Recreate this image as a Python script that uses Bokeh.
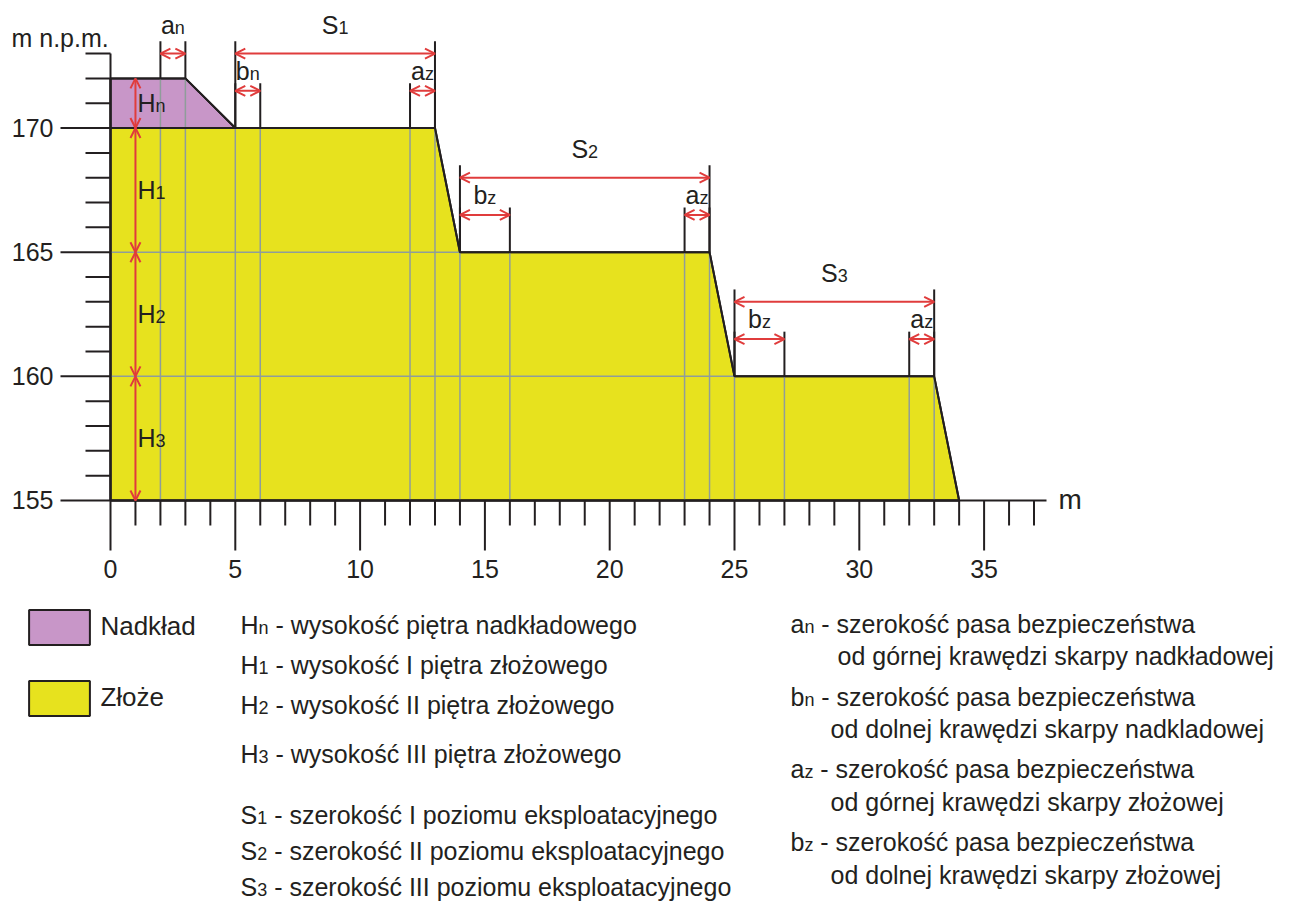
import numpy as np
from bokeh.plotting import figure
from bokeh.models import (ColumnDataSource, Arrow, OpenHead, Range1d,
                          LabelSet, Legend, LegendItem)
from bokeh.core.properties import value
from bokeh.embed import file_html
from bokeh.resources import INLINE

# ---------------- data ----------------
NADKLAD_X = [0, 0, 3, 5]
NADKLAD_Y = [170, 172, 172, 170]
ZLOZE_X = [0, 0, 13, 14, 24, 25, 33, 34]
ZLOZE_Y = [155, 170, 170, 165, 165, 160, 160, 155]
PROFILE_X = [0, 3, 5, 13, 14, 24, 25, 33, 34]
PROFILE_Y = [172, 172, 170, 170, 165, 165, 160, 160, 155]

H_SUB = ["n", "1", "2", "3"]
H_BOTTOM = [170, 165, 160, 155]
H_TOP = [172, 170, 165, 160]

S_SUB = ["1", "2", "3"]
S_START = [5, 14, 25]
S_END = [13, 24, 33]
S_LEVEL = [170, 165, 160]

BELT_BASE = ["a", "b", "a", "b", "a", "b", "a"]
BELT_SUB = ["n", "n", "z", "z", "z", "z", "z"]
BELT_START = [2, 5, 12, 14, 23, 25, 32]
BELT_END = [3, 6, 13, 16, 24, 27, 33]
BELT_LEVEL = [172, 170, 170, 165, 165, 160, 160]

X_MAJOR = [0, 5, 10, 15, 20, 25, 30, 35]
X_MINOR = [i for i in range(0, 38) if i % 5]
Y_MAJOR = [155, 160, 165, 170]
Y_MINOR = [i for i in range(156, 174) if i % 5]
X_UNIT = "m"
Y_UNIT = "m n.p.m."

LEGEND_LABELS = ["Nadkład", "Złoże"]

LEFT_BASE = ["H", "H", "H", "H", "S", "S", "S"]
LEFT_SUB = ["n", "1", "2", "3", "1", "2", "3"]
LEFT_TEXT = ["- wysokość piętra nadkładowego",
             "- wysokość I piętra złożowego",
             "- wysokość II piętra złożowego",
             "- wysokość III piętra złożowego",
             "- szerokość I poziomu eksploatacyjnego",
             "- szerokość II poziomu eksploatacyjnego",
             "- szerokość III poziomu eksploatacyjnego"]

RIGHT_BASE = ["a", "b", "a", "b"]
RIGHT_SUB = ["n", "n", "z", "z"]
RIGHT_LINE1 = ["- szerokość pasa bezpieczeństwa"] * 4
RIGHT_LINE2 = ["od górnej krawędzi skarpy nadkładowej",
               "od dolnej krawędzi skarpy nadkladowej",
               "od górnej krawędzi skarpy złożowej",
               "od dolnej krawędzi skarpy złożowej"]

# ---------------- style / layout ----------------
FONT = "Liberation Sans"
TXT = "#231f20"
LINE = "#231f20"
RED = "#e03c3c"
GREY = "#8f9d9a"
PURPLE = "#c896c8"
YELLOW = "#e7e21e"

FIG_W, FIG_H = 1284, 901
PPU_X = 24.96
PPU_Y = 24.83
X0_PX, Y0_PX = 110, 500   # pixel of the point (0, 155)
Y_BASE = 155


def px_x(px):
    return (px - X0_PX) / PPU_X


def px_y(py):
    return Y_BASE + (Y0_PX - py) / PPU_Y


W = dict(H=0.722, S=0.667, a=0.556, b=0.556, n=0.556, z=0.5)
W.update({d: 0.556 for d in "0123456789"})
SPACE = 0.278

texts = {}


def put(x, y, text, xo, size, align="left"):
    g = texts.setdefault((size, align), dict(x=[], y=[], text=[], xo=[]))
    g["x"].append(x)
    g["y"].append(y)
    g["text"].append(text)
    g["xo"].append(xo)


def tw(s, size):
    return sum(W.get(c, 0.55) for c in s) * size


def sub_label(x, y, base, sub, size, subsize, center=False, rest=None, xo0=0.0):
    wb = tw(base, size)
    ws = tw(sub, subsize)
    start = xo0 - (wb + ws) / 2 if center else xo0
    put(x, y, base, start, size)
    put(x, y, sub, start + wb, subsize)
    if rest is not None:
        put(x, y, rest, start + wb + ws + SPACE * size, size)


p = figure(width=FIG_W, height=FIG_H,
           x_range=Range1d(px_x(0), px_x(FIG_W)), y_range=Range1d(px_y(FIG_H), px_y(0)),
           output_backend="svg", toolbar_location=None,
           x_axis_location=None, y_axis_location=None, min_border=0)
p.outline_line_color = None
p.grid.visible = False
p.background_fill_color = "white"

# ---- fills ----
r_nad = p.patch(NADKLAD_X, NADKLAD_Y, fill_color=PURPLE, line_color=LINE, line_width=2)
r_zl = p.patch(ZLOZE_X, ZLOZE_Y, fill_color=YELLOW, line_color=LINE, line_width=2)

# ---- grey construction lines ----
gx = sorted(set(BELT_START + BELT_END))
gtop = list(np.interp(gx, PROFILE_X, PROFILE_Y))
p.segment(x0=gx, y0=[Y_BASE] * len(gx), x1=gx, y1=gtop, line_color=GREY, line_width=1.5)
hl = S_LEVEL[1:]
p.segment(x0=[0] * len(hl), y0=hl, x1=S_START[1:], y1=hl, line_color=GREY, line_width=1.5)

# outlines on top of the grey lines
p.patch(NADKLAD_X, NADKLAD_Y, fill_color=None, line_color=LINE, line_width=2)
p.patch(ZLOZE_X, ZLOZE_Y, fill_color=None, line_color=LINE, line_width=2)

# ---- axes (drawn in data space at x = 0 and y = 155) ----
x_end = max(X_MINOR + X_MAJOR) + 0.5
y_end = max(Y_MINOR + Y_MAJOR)
p.segment(x0=[0, 0], y0=[Y_BASE, Y_BASE], x1=[0, x_end], y1=[y_end, Y_BASE],
          line_color=LINE, line_width=2)
MAJ, MIN = 50, 25   # tick lengths in px
yt = Y_MAJOR + Y_MINOR
ylen = [MAJ] * len(Y_MAJOR) + [MIN] * len(Y_MINOR)
p.segment(x0=[0] * len(yt), y0=yt, x1=[-l / PPU_X for l in ylen], y1=yt,
          line_color=LINE, line_width=2)
xt = X_MAJOR + X_MINOR
xlen = [MAJ] * len(X_MAJOR) + [MIN] * len(X_MINOR)
p.segment(x0=xt, y0=[Y_BASE] * len(xt), x1=xt, y1=[Y_BASE - l / PPU_Y for l in xlen],
          line_color=LINE, line_width=2)
for t in Y_MAJOR:
    put(0, t - 8.6 / PPU_Y, str(t), -(MAJ + 7), 25, align="right")
for t in X_MAJOR:
    put(t, Y_BASE - 77 / PPU_Y, str(t), 0, 25, align="center")
put(px_x(11), px_y(46.7), Y_UNIT, 0, 25)
put(px_x(1058), px_y(508), X_UNIT, 0, 28)

# ---- dimension lines ----
ext = dict(x0=[], y0=[], x1=[], y1=[])
arr = dict(x0=[], y0=[], x1=[], y1=[])


def add(d, a, b, c, e):
    d["x0"].append(a); d["y0"].append(b); d["x1"].append(c); d["y1"].append(e)


top_level = max(S_LEVEL)
for s, a, b, lvl in zip(S_SUB, S_START, S_END, S_LEVEL):
    add(ext, a, lvl, a, lvl + 3.5)
    add(ext, b, lvl, b, lvl + 3.5)
    add(arr, a, lvl + 3, b, lvl + 3)
    sub_label((a + b) / 2, lvl + 3.8, "S", s, 25, 18, center=True)

for base, s, a, b, lvl in zip(BELT_BASE, BELT_SUB, BELT_START, BELT_END, BELT_LEVEL):
    over = lvl > top_level
    ay = lvl + (1.0 if over else 1.5)
    add(ext, a, lvl, a, ay + (0.5 if over else 0.3))
    add(ext, b, lvl, b, ay + (0.5 if over else 0.3))
    add(arr, a, ay, b, ay)
    sub_label((a + b) / 2, ay + (0.8 if over else 0.45), base, s, 25, 18, center=True)

for s, lo, hi in zip(H_SUB, H_BOTTOM, H_TOP):
    add(arr, 1, lo, 1, hi)
    sub_label(1, (lo + hi) / 2 - 8.5 / PPU_Y, "H", s, 25, 18, xo0=2)

p.add_layout(Arrow(x_start="x0", y_start="y0", x_end="x1", y_end="y1",
                   source=ColumnDataSource(ext), start=None, end=None,
                   line_color=LINE, line_width=2))
p.add_layout(Arrow(x_start="x0", y_start="y0", x_end="x1", y_end="y1",
                   source=ColumnDataSource(arr),
                   start=OpenHead(size=10, line_color=RED, line_width=2),
                   end=OpenHead(size=10, line_color=RED, line_width=2),
                   line_color=RED, line_width=2))

# ---- definitions ----
LEFT_BASELINE_PX = [633, 673, 713, 762, 823, 859, 895]
for base, s, txt, py in zip(LEFT_BASE, LEFT_SUB, LEFT_TEXT, LEFT_BASELINE_PX):
    sub_label(px_x(240), px_y(py), base, s, 25, 18, rest=txt)

R1_PX = [632, 705, 777, 850]
R2_PX = [664, 737, 810, 883]
R2_X_PX = [837, 830, 830, 830]
for base, s, t1, t2, py1, py2, px2 in zip(RIGHT_BASE, RIGHT_SUB, RIGHT_LINE1, RIGHT_LINE2,
                                           R1_PX, R2_PX, R2_X_PX):
    sub_label(px_x(790), px_y(py1), base, s, 25, 18, rest=t1)
    put(px_x(px2), px_y(py2), t2, 0, 25)

for (size, align), g in texts.items():
    p.add_layout(LabelSet(x="x", y="y", text="text", x_offset="xo",
                          source=ColumnDataSource(g), text_font=value(FONT),
                          text_font_size=f"{size}px", text_color=TXT,
                          text_align=align, text_baseline="alphabetic"))

# ---- colour legend (swatches) ----
legend = Legend(items=[LegendItem(label=LEGEND_LABELS[0], renderers=[r_nad]),
                       LegendItem(label=LEGEND_LABELS[1], renderers=[r_zl])],
                location=(21.4, FIG_H - 719.6), orientation="vertical",
                glyph_width=76, glyph_height=44, spacing=27, padding=0, margin=0,
                label_standoff=3, border_line_color=None, background_fill_alpha=0,
                label_text_font=FONT, label_text_font_size="26px", label_text_color=TXT)
p.add_layout(legend)

open("out.html", "w").write(file_html(p, INLINE))
